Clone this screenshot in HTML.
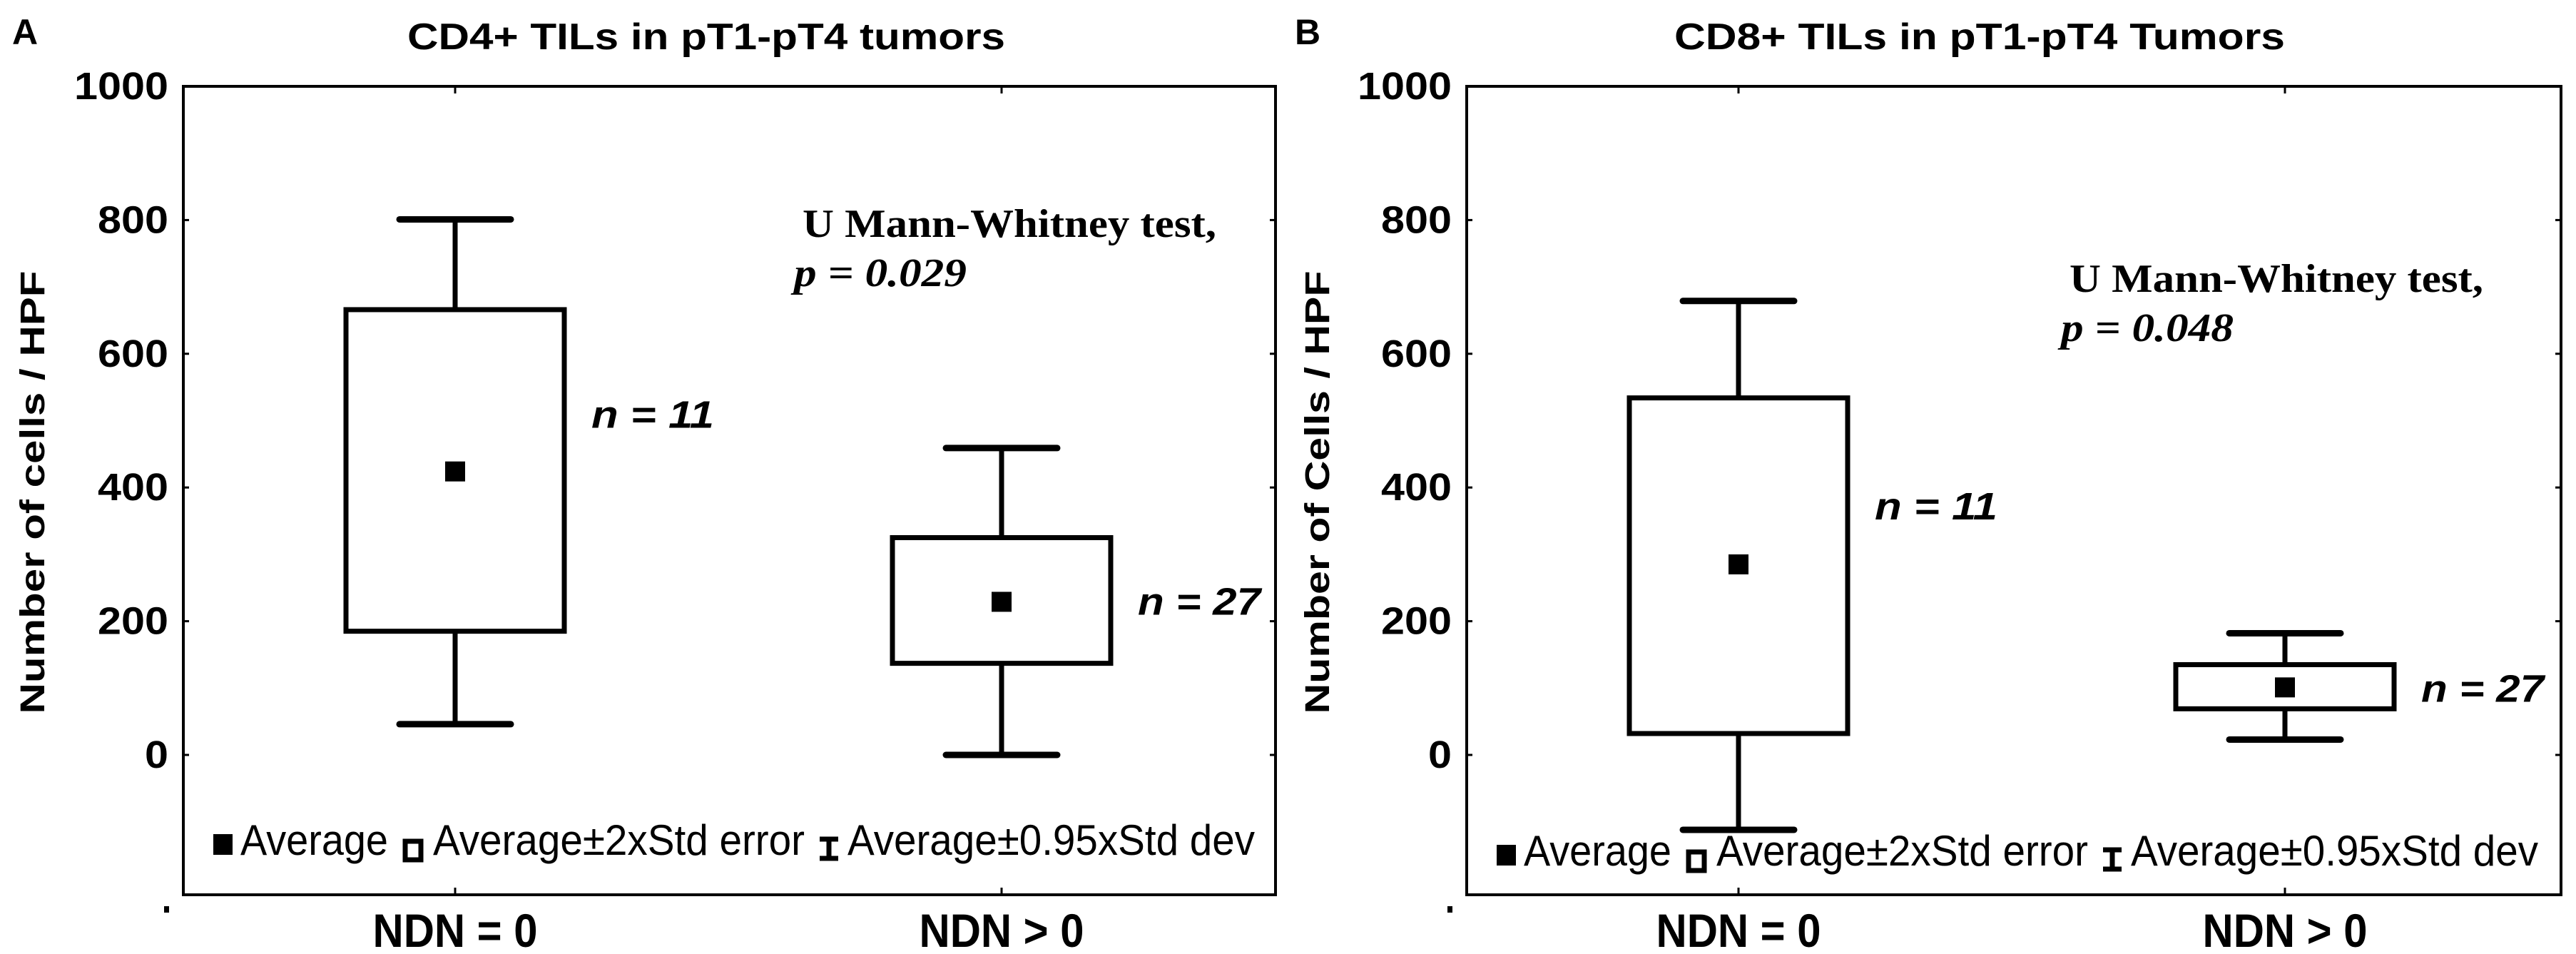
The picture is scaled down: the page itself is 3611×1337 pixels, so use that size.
<!DOCTYPE html>
<html><head><meta charset="utf-8"><style>
html,body{margin:0;padding:0;background:#fff;}
svg{display:block;}
text{fill:#000;}
</style></head><body>
<svg id="chart" width="3611" height="1337" viewBox="0 0 3611 1337" xmlns="http://www.w3.org/2000/svg"></svg>
<script>
// Panel A data (CD4+)
const categories = ["NDN = 0", "NDN > 0"];
const meanA = [424, 229];
const seLowA = [185, 137];
const seHighA = [666, 325];
const sdLowA = [46, 0];
const sdHighA = [801, 459];
const nLabelsA = ["n = 11", "n = 27"];
// Panel B data (CD8+)
const meanB = [285, 101];
const seLowB = [32, 69];
const seHighB = [534, 135];
const sdLowB = [-112, 23];
const sdHighB = [679, 182];
const nLabelsB = ["n = 11", "n = 27"];
const yTicks = [0, 200, 400, 600, 800, 1000];
const yTickLabels = ["0", "200", "400", "600", "800", "1000"];

const NS = "http://www.w3.org/2000/svg";
const svg = document.getElementById("chart");
function mk(tag, attrs, parent, txt) {
  const e = document.createElementNS(NS, tag);
  for (const k in attrs) e.setAttribute(k, attrs[k]);
  if (txt !== undefined) e.textContent = txt;
  (parent || svg).appendChild(e);
  return e;
}

function panel(cfg) {
  const g = mk("g", {});
  
  
  const L = cfg.left, R = cfg.right, T = 121, B = 1254;
  const y = v => 1058 - v * 0.937;
  const xs = [L + 381, L + 1147];

  const letter = mk("text", {x: cfg.letterX, y: 62, "font-family": "Liberation Sans, sans-serif", "font-weight": "bold", "font-size": 50}, g, cfg.letter);
  
  

  const title = mk("text", {x: cfg.titleX, y: 69, "font-family": "Liberation Sans, sans-serif", "font-weight": "bold", "font-size": 52, textLength: cfg.titleW, lengthAdjust: "spacingAndGlyphs"}, g, cfg.title);
  
  

  const frame = mk("rect", {x: L, y: T, width: R - L, height: B - T, fill: "none", stroke: "#000", "stroke-width": 4}, g);
  
  

  yTicks.forEach((v, i) => {
    const yy = y(v);
    const t1 = mk("line", {x1: L, x2: L + 8, y1: yy, y2: yy, stroke: "#000", "stroke-width": 3}, g);
    
    
    const t2 = mk("line", {x1: R - 8, x2: R, y1: yy, y2: yy, stroke: "#000", "stroke-width": 3}, g);
    
    
    const lab = yTickLabels[i];
    const lb = mk("text", {x: L - 21, y: yy + 18, "text-anchor": "end", "font-family": "Liberation Sans, sans-serif", "font-weight": "bold", "font-size": 54, textLength: lab.length * 33, lengthAdjust: "spacingAndGlyphs"}, g, lab);
    
    
  });
  const dot = mk("rect", {x: L - 27, y: 1270, width: 7, height: 9, fill: "#000"}, g);
  
  

  const yt = mk("text", {x: 0, y: 0, transform: `translate(${cfg.yTitleX},690) rotate(-90)`, "text-anchor": "middle", "font-family": "Liberation Sans, sans-serif", "font-weight": "bold", "font-size": 48, textLength: 621, lengthAdjust: "spacingAndGlyphs"}, g, cfg.yTitle);
  
  

  categories.forEach((c, i) => {
    const x = xs[i];
    const tk = mk("line", {x1: x, x2: x, y1: B, y2: B - 10, stroke: "#000", "stroke-width": 3}, g);
    
    
    const tk2 = mk("line", {x1: x, x2: x, y1: T, y2: T + 10, stroke: "#000", "stroke-width": 3}, g);
    
    
    const xl = mk("text", {x: x, y: 1327, "text-anchor": "middle", "font-family": "Liberation Sans, sans-serif", "font-weight": "bold", "font-size": 66, textLength: 231, lengthAdjust: "spacingAndGlyphs"}, g, c);
    
    

    const wl = mk("line", {x1: x, x2: x, y1: y(cfg.sdHigh[i]), y2: y(cfg.sdLow[i]), stroke: "#000", "stroke-width": 7}, g);
    
    
    [cfg.sdHigh[i], cfg.sdLow[i]].forEach(v => {
      const cap = mk("line", {x1: x - 78, x2: x + 78, y1: y(v), y2: y(v), stroke: "#000", "stroke-width": 9, "stroke-linecap": "round"}, g);
      
      
    });
    const bx = mk("rect", {x: x - 153, y: y(cfg.seHigh[i]), width: 306, height: y(cfg.seLow[i]) - y(cfg.seHigh[i]), fill: "#fff", stroke: "#000", "stroke-width": 7}, g);
    
    
    const m = mk("rect", {x: x - 14, y: y(cfg.mean[i]) - 14, width: 28, height: 28, fill: "#000"}, g);
    
    
    const nl = mk("text", {x: x + 191, y: y(cfg.mean[i]) + cfg.nOff[i], "font-family": "Liberation Sans, sans-serif", "font-weight": "bold", "font-style": "italic", "font-size": 54, textLength: 172, lengthAdjust: "spacingAndGlyphs"}, g, cfg.nLabels[i]);
    
    
  });

  const mw = mk("text", {x: cfg.mwX, y: cfg.mwY, "font-family": "Liberation Serif, serif", "font-weight": "bold", "font-size": 56, textLength: 580, lengthAdjust: "spacingAndGlyphs"}, g, "U Mann-Whitney test,");
  
  
  const pv = mk("text", {x: cfg.mwX - 12, y: cfg.mwY + 69, "font-family": "Liberation Serif, serif", "font-weight": "bold", "font-style": "italic", "font-size": 56, textLength: 242, lengthAdjust: "spacingAndGlyphs"}, g, cfg.p);
  
  

  // legend
  const lg = mk("g", {}, g);
  
  
  const by = cfg.legY, lx = L;
  const s1 = mk("rect", {x: lx + 42, y: by - 29, width: 27, height: 29, fill: "#000"}, lg);
  
  
  const t1 = mk("text", {x: lx + 80, y: by, "font-family": "Liberation Sans, sans-serif", "font-size": 60, textLength: 207, lengthAdjust: "spacingAndGlyphs"}, lg, "Average");
  
  
  const s2 = mk("rect", {x: lx + 311, y: by - 19, width: 22, height: 26, fill: "#fff", stroke: "#000", "stroke-width": 7}, lg);
  
  
  const t2 = mk("text", {x: lx + 350, y: by, "font-family": "Liberation Sans, sans-serif", "font-size": 60, textLength: 521, lengthAdjust: "spacingAndGlyphs"}, lg, "Average±2xStd error");
  
  
  const ip = mk("path", {d: `M${lx+892} ${by-22} h26 M${lx+892} ${by+5} h26 M${lx+905} ${by-22} v27`, stroke: "#000", "stroke-width": 7, fill: "none"}, lg);
  
  
  const t3 = mk("text", {x: lx + 931, y: by, "font-family": "Liberation Sans, sans-serif", "font-size": 60, textLength: 571, lengthAdjust: "spacingAndGlyphs"}, lg, "Average±0.95xStd dev");
  
  
}

panel({name: "panel-a-cd4", left: 257, right: 1788, letter: "A", letterX: 17,
  title: "CD4+ TILs in pT1-pT4 tumors", titleX: 571, titleW: 838,
  yTitle: "Number of cells / HPF", yTitleX: 62,
  mean: meanA, seLow: seLowA, seHigh: seHighA, sdLow: sdLowA, sdHigh: sdHighA, nLabels: nLabelsA,
  nOff: [-61, 18], mwX: 1125, mwY: 332, p: "p = 0.029", legY: 1198});
panel({name: "panel-b-cd8", left: 2056, right: 3590, letter: "B", letterX: 1815,
  title: "CD8+ TILs in pT1-pT4 Tumors", titleX: 2347, titleW: 856,
  yTitle: "Number of Cells / HPF", yTitleX: 1863,
  mean: meanB, seLow: seLowB, seHigh: seHighB, sdLow: sdLowB, sdHigh: sdHighB, nLabels: nLabelsB,
  nOff: [-63, 20], mwX: 2901, mwY: 409, p: "p = 0.048", legY: 1213});
</script>
</body></html>
